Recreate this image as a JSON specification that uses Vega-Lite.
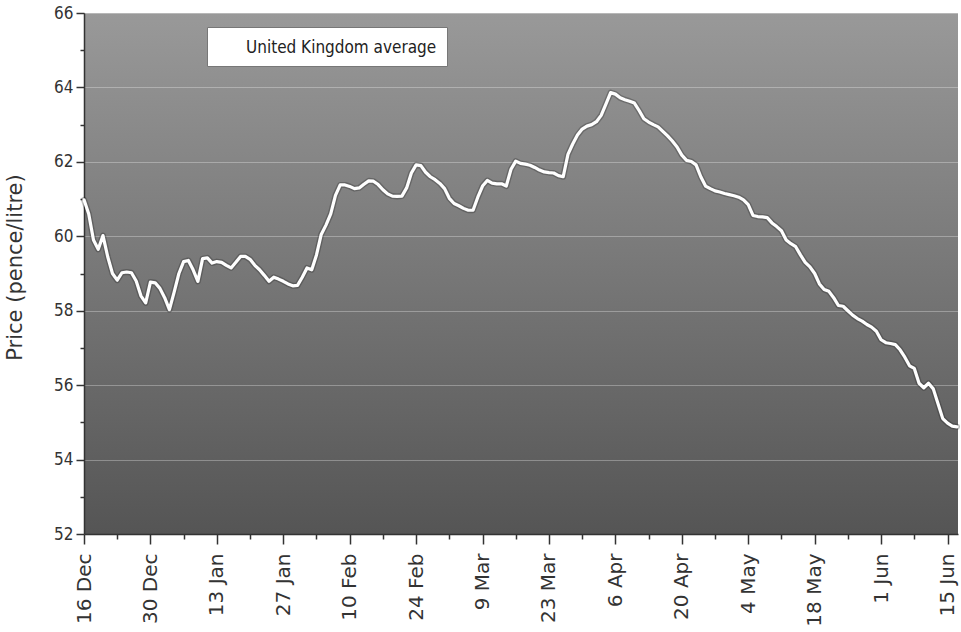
{
  "$schema": "https://vega.github.io/schema/vega-lite/v6.json",
  "autosize": "none",
  "width": 874,
  "height": 521,
  "padding": {"left": 84, "top": 13, "right": 3, "bottom": 98},
  "background": "white",
  "config": {
    "view": {
      "stroke": null,
      "fill": {"gradient": "linear", "x1": 0, "y1": 0, "x2": 0, "y2": 1, "stops": [{"offset": 0, "color": "#999999"}, {"offset": 1, "color": "#555555"}]}
    }
  },
  "data": {"values": [
    {"date": "2007/12/16", "price": 60.98}, {"date": "2007/12/17", "price": 60.6}, {"date": "2007/12/18", "price": 59.9}, {"date": "2007/12/19", "price": 59.65},
    {"date": "2007/12/20", "price": 60.02}, {"date": "2007/12/21", "price": 59.45}, {"date": "2007/12/22", "price": 59.0}, {"date": "2007/12/23", "price": 58.82},
    {"date": "2007/12/24", "price": 59.02}, {"date": "2007/12/25", "price": 59.04}, {"date": "2007/12/26", "price": 59.02}, {"date": "2007/12/27", "price": 58.8},
    {"date": "2007/12/28", "price": 58.4}, {"date": "2007/12/29", "price": 58.21}, {"date": "2007/12/30", "price": 58.77}, {"date": "2007/12/31", "price": 58.75},
    {"date": "2008/01/01", "price": 58.6}, {"date": "2008/01/02", "price": 58.35}, {"date": "2008/01/03", "price": 58.03}, {"date": "2008/01/04", "price": 58.5},
    {"date": "2008/01/05", "price": 59.0}, {"date": "2008/01/06", "price": 59.32}, {"date": "2008/01/07", "price": 59.35}, {"date": "2008/01/08", "price": 59.1},
    {"date": "2008/01/09", "price": 58.79}, {"date": "2008/01/10", "price": 59.4}, {"date": "2008/01/11", "price": 59.42}, {"date": "2008/01/12", "price": 59.28},
    {"date": "2008/01/13", "price": 59.32}, {"date": "2008/01/14", "price": 59.3}, {"date": "2008/01/15", "price": 59.22}, {"date": "2008/01/16", "price": 59.15},
    {"date": "2008/01/17", "price": 59.3}, {"date": "2008/01/18", "price": 59.46}, {"date": "2008/01/19", "price": 59.46}, {"date": "2008/01/20", "price": 59.38},
    {"date": "2008/01/21", "price": 59.22}, {"date": "2008/01/22", "price": 59.1}, {"date": "2008/01/23", "price": 58.95}, {"date": "2008/01/24", "price": 58.79},
    {"date": "2008/01/25", "price": 58.9}, {"date": "2008/01/26", "price": 58.85}, {"date": "2008/01/27", "price": 58.79}, {"date": "2008/01/28", "price": 58.72},
    {"date": "2008/01/29", "price": 58.67}, {"date": "2008/01/30", "price": 58.68}, {"date": "2008/01/31", "price": 58.9}, {"date": "2008/02/01", "price": 59.15},
    {"date": "2008/02/02", "price": 59.1}, {"date": "2008/02/03", "price": 59.5}, {"date": "2008/02/04", "price": 60.05}, {"date": "2008/02/05", "price": 60.3},
    {"date": "2008/02/06", "price": 60.6}, {"date": "2008/02/07", "price": 61.1}, {"date": "2008/02/08", "price": 61.38}, {"date": "2008/02/09", "price": 61.38},
    {"date": "2008/02/10", "price": 61.34}, {"date": "2008/02/11", "price": 61.28}, {"date": "2008/02/12", "price": 61.3}, {"date": "2008/02/13", "price": 61.4},
    {"date": "2008/02/14", "price": 61.49}, {"date": "2008/02/15", "price": 61.48}, {"date": "2008/02/16", "price": 61.39}, {"date": "2008/02/17", "price": 61.25},
    {"date": "2008/02/18", "price": 61.14}, {"date": "2008/02/19", "price": 61.08}, {"date": "2008/02/20", "price": 61.07}, {"date": "2008/02/21", "price": 61.08},
    {"date": "2008/02/22", "price": 61.3}, {"date": "2008/02/23", "price": 61.7}, {"date": "2008/02/24", "price": 61.92}, {"date": "2008/02/25", "price": 61.9},
    {"date": "2008/02/26", "price": 61.72}, {"date": "2008/02/27", "price": 61.6}, {"date": "2008/02/28", "price": 61.52}, {"date": "2008/02/29", "price": 61.42},
    {"date": "2008/03/01", "price": 61.28}, {"date": "2008/03/02", "price": 61.02}, {"date": "2008/03/03", "price": 60.88}, {"date": "2008/03/04", "price": 60.82},
    {"date": "2008/03/05", "price": 60.75}, {"date": "2008/03/06", "price": 60.7}, {"date": "2008/03/07", "price": 60.7}, {"date": "2008/03/08", "price": 61.05},
    {"date": "2008/03/09", "price": 61.35}, {"date": "2008/03/10", "price": 61.5}, {"date": "2008/03/11", "price": 61.43}, {"date": "2008/03/12", "price": 61.41},
    {"date": "2008/03/13", "price": 61.41}, {"date": "2008/03/14", "price": 61.35}, {"date": "2008/03/15", "price": 61.8}, {"date": "2008/03/16", "price": 62.02},
    {"date": "2008/03/17", "price": 61.96}, {"date": "2008/03/18", "price": 61.94}, {"date": "2008/03/19", "price": 61.91}, {"date": "2008/03/20", "price": 61.85},
    {"date": "2008/03/21", "price": 61.78}, {"date": "2008/03/22", "price": 61.73}, {"date": "2008/03/23", "price": 61.71}, {"date": "2008/03/24", "price": 61.7},
    {"date": "2008/03/25", "price": 61.63}, {"date": "2008/03/26", "price": 61.6}, {"date": "2008/03/27", "price": 62.2}, {"date": "2008/03/28", "price": 62.48},
    {"date": "2008/03/29", "price": 62.72}, {"date": "2008/03/30", "price": 62.88}, {"date": "2008/03/31", "price": 62.96}, {"date": "2008/04/01", "price": 63.0},
    {"date": "2008/04/02", "price": 63.08}, {"date": "2008/04/03", "price": 63.25}, {"date": "2008/04/04", "price": 63.55}, {"date": "2008/04/05", "price": 63.86},
    {"date": "2008/04/06", "price": 63.82}, {"date": "2008/04/07", "price": 63.72}, {"date": "2008/04/08", "price": 63.67}, {"date": "2008/04/09", "price": 63.63},
    {"date": "2008/04/10", "price": 63.58}, {"date": "2008/04/11", "price": 63.38}, {"date": "2008/04/12", "price": 63.16}, {"date": "2008/04/13", "price": 63.07},
    {"date": "2008/04/14", "price": 63.0}, {"date": "2008/04/15", "price": 62.94}, {"date": "2008/04/16", "price": 62.82}, {"date": "2008/04/17", "price": 62.7},
    {"date": "2008/04/18", "price": 62.56}, {"date": "2008/04/19", "price": 62.4}, {"date": "2008/04/20", "price": 62.18}, {"date": "2008/04/21", "price": 62.04},
    {"date": "2008/04/22", "price": 62.01}, {"date": "2008/04/23", "price": 61.92}, {"date": "2008/04/24", "price": 61.6}, {"date": "2008/04/25", "price": 61.35},
    {"date": "2008/04/26", "price": 61.28}, {"date": "2008/04/27", "price": 61.22}, {"date": "2008/04/28", "price": 61.19}, {"date": "2008/04/29", "price": 61.15},
    {"date": "2008/04/30", "price": 61.12}, {"date": "2008/05/01", "price": 61.09}, {"date": "2008/05/02", "price": 61.05}, {"date": "2008/05/03", "price": 60.98},
    {"date": "2008/05/04", "price": 60.85}, {"date": "2008/05/05", "price": 60.56}, {"date": "2008/05/06", "price": 60.53}, {"date": "2008/05/07", "price": 60.52},
    {"date": "2008/05/08", "price": 60.5}, {"date": "2008/05/09", "price": 60.36}, {"date": "2008/05/10", "price": 60.26}, {"date": "2008/05/11", "price": 60.15},
    {"date": "2008/05/12", "price": 59.9}, {"date": "2008/05/13", "price": 59.8}, {"date": "2008/05/14", "price": 59.72}, {"date": "2008/05/15", "price": 59.5},
    {"date": "2008/05/16", "price": 59.3}, {"date": "2008/05/17", "price": 59.18}, {"date": "2008/05/18", "price": 59.0}, {"date": "2008/05/19", "price": 58.72},
    {"date": "2008/05/20", "price": 58.57}, {"date": "2008/05/21", "price": 58.52}, {"date": "2008/05/22", "price": 58.35}, {"date": "2008/05/23", "price": 58.14},
    {"date": "2008/05/24", "price": 58.12}, {"date": "2008/05/25", "price": 58.0}, {"date": "2008/05/26", "price": 57.88}, {"date": "2008/05/27", "price": 57.79},
    {"date": "2008/05/28", "price": 57.72}, {"date": "2008/05/29", "price": 57.63}, {"date": "2008/05/30", "price": 57.56}, {"date": "2008/05/31", "price": 57.45},
    {"date": "2008/06/01", "price": 57.22}, {"date": "2008/06/02", "price": 57.14}, {"date": "2008/06/03", "price": 57.12}, {"date": "2008/06/04", "price": 57.09},
    {"date": "2008/06/05", "price": 56.95}, {"date": "2008/06/06", "price": 56.75}, {"date": "2008/06/07", "price": 56.52}, {"date": "2008/06/08", "price": 56.45},
    {"date": "2008/06/09", "price": 56.05}, {"date": "2008/06/10", "price": 55.93}, {"date": "2008/06/11", "price": 56.05}, {"date": "2008/06/12", "price": 55.9},
    {"date": "2008/06/13", "price": 55.5}, {"date": "2008/06/14", "price": 55.1}, {"date": "2008/06/15", "price": 54.98}, {"date": "2008/06/16", "price": 54.9},
    {"date": "2008/06/17", "price": 54.88}
  ]},
  "encoding": {
    "x": {
      "field": "date", "type": "temporal",
      "scale": {"domain": [{"year": 2007, "month": 12, "date": 16}, {"year": 2008, "month": 6, "date": 17, "hours": 5}]},
      "axis": {
        "title": null,
        "grid": false,
        "format": "%-d %b",
        "labelAngle": -90,
        "labelFont": "DejaVu Sans",
        "labelFontSize": 20,
        "labelColor": "#333333",
        "labelPadding": 9,
        "labelOverlap": false,
        "labelExpr": "round((datum.value - datetime(2007,11,16)) / 604800000) % 2 == 0 ? datum.label : ''",
        "values": [
          {"year": 2007, "month": 12, "date": 16}, {"year": 2007, "month": 12, "date": 23}, {"year": 2007, "month": 12, "date": 30},
          {"year": 2008, "month": 1, "date": 6}, {"year": 2008, "month": 1, "date": 13}, {"year": 2008, "month": 1, "date": 20}, {"year": 2008, "month": 1, "date": 27},
          {"year": 2008, "month": 2, "date": 3}, {"year": 2008, "month": 2, "date": 10}, {"year": 2008, "month": 2, "date": 17}, {"year": 2008, "month": 2, "date": 24},
          {"year": 2008, "month": 3, "date": 2}, {"year": 2008, "month": 3, "date": 9}, {"year": 2008, "month": 3, "date": 16}, {"year": 2008, "month": 3, "date": 23}, {"year": 2008, "month": 3, "date": 30},
          {"year": 2008, "month": 4, "date": 6}, {"year": 2008, "month": 4, "date": 13}, {"year": 2008, "month": 4, "date": 20}, {"year": 2008, "month": 4, "date": 27},
          {"year": 2008, "month": 5, "date": 4}, {"year": 2008, "month": 5, "date": 11}, {"year": 2008, "month": 5, "date": 18}, {"year": 2008, "month": 5, "date": 25},
          {"year": 2008, "month": 6, "date": 1}, {"year": 2008, "month": 6, "date": 8}, {"year": 2008, "month": 6, "date": 15}
        ],
        "tickSize": {"condition": {"test": "round((datum.value - datetime(2007,11,16)) / 604800000) % 2 == 0", "value": 10}, "value": 5},
        "tickColor": "#333333",
        "tickWidth": 1.5,
        "domainColor": "#333333",
        "domainWidth": 1.5
      }
    },
    "y": {
      "field": "price", "type": "quantitative",
      "scale": {"domain": [52, 66], "nice": false, "zero": false},
      "axis": {
        "title": "Price (pence/litre)",
        "titleFont": "DejaVu Sans",
        "titleFontSize": 21,
        "titleFontWeight": "normal",
        "titleColor": "#333333",
        "titleX": -69,
        "titleY": 254,
        "titleBaseline": "middle",
        "values": [52, 53, 54, 55, 56, 57, 58, 59, 60, 61, 62, 63, 64, 65, 66],
        "labelExpr": "datum.value % 2 == 0 ? datum.label : ''",
        "labelFont": "DejaVu Sans Condensed, DejaVu Sans",
        "labelFontSize": 17,
        "labelColor": "#333333",
        "labelPadding": 3,
        "tickSize": {"condition": {"test": "datum.value % 2 == 0", "value": 8}, "value": 4},
        "tickColor": "#333333",
        "tickWidth": 1.5,
        "domainColor": "#333333",
        "domainWidth": 1.5,
        "grid": true,
        "gridColor": "white",
        "gridWidth": 1.2,
        "gridOpacity": {"condition": {"test": "datum.value % 2 == 0", "value": 0.3}, "value": 0}
      }
    }
  },
  "layer": [
    {
      "mark": {"type": "line", "stroke": "#222222", "strokeWidth": 6, "opacity": 0.3, "strokeCap": "round", "strokeJoin": "round"}
    },
    {
      "mark": {"type": "line", "strokeWidth": 3.2, "strokeCap": "round", "strokeJoin": "round"},
      "encoding": {
        "color": {
          "datum": "United Kingdom average",
          "scale": {"range": ["white"]},
          "legend": {
            "title": null,
            "orient": "none",
            "legendX": 123,
            "legendY": 14,
            "padding": 10,
            "fillColor": "white",
            "strokeColor": "#777777",
            "symbolType": "stroke",
            "symbolSize": 361,
            "symbolStrokeWidth": 1.5,
            "symbolStrokeColor": "#dddddd",
            "labelFont": "DejaVu Sans Condensed, DejaVu Sans",
            "labelFontSize": 17,
            "labelLimit": 400,
            "labelColor": "#222222",
            "labelOffset": 8
          }
        }
      }
    }
  ]
}
